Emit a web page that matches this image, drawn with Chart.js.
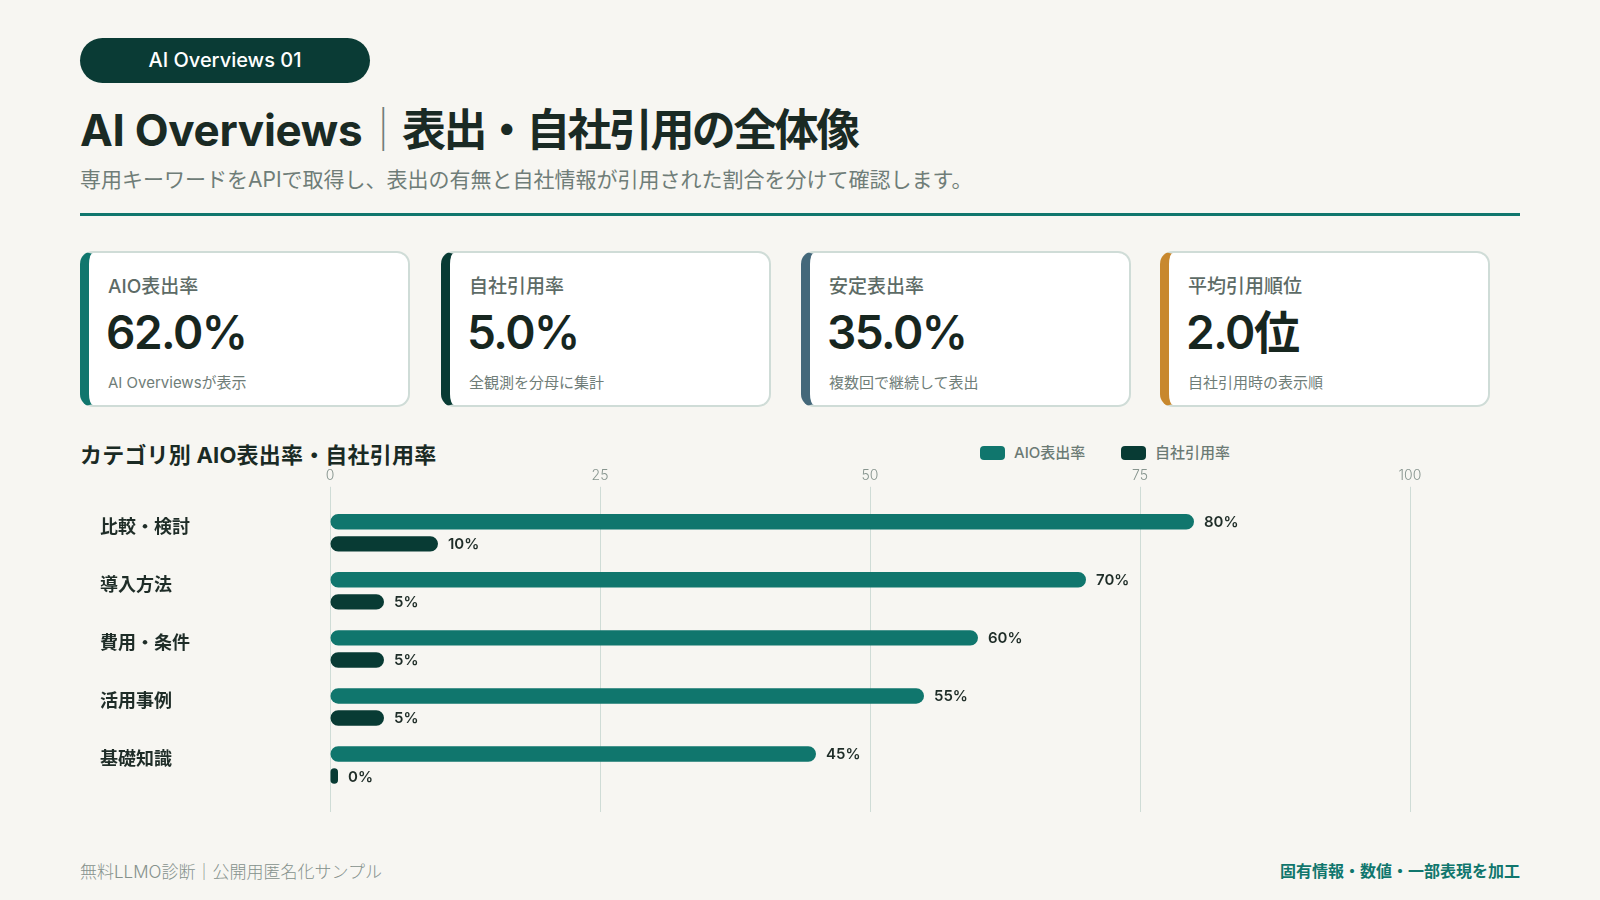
<!DOCTYPE html>
<html lang="ja">
<head>
<meta charset="utf-8">
<script src="https://cdn.jsdelivr.net/npm/chart.js@4/dist/chart.umd.min.js"></script>
<style>
  html, body { margin: 0; padding: 0; }
  body {
    width: 1600px; height: 900px; position: relative; overflow: hidden;
    background: #f7f6f2;
    font-family: Inter, "Noto Sans CJK JP", sans-serif;
    color: #1a2a24;
  }
  .pill {
    position: absolute; left: 80px; top: 38px; width: 290px; height: 45px;
    border-radius: 23px; background: #0a3b35; color: #fff;
    font-size: 20px; font-weight: 500; line-height: 45px; text-align: center;
  }
  h1 {
    position: absolute; left: 80px; top: 95px; margin: 0;
    font-size: 44px; font-weight: 700; letter-spacing: -0.3px; color: #1a2a24;
  }
  h1 .bar { font-weight: 300; color: #6f7d78; margin: 0 -3px 0 -1px; }
  h1 .jp { letter-spacing: -2.6px; }
  .sub {
    position: absolute; left: 80px; top: 163px;
    font-size: 21px; color: #6f7d78;
  }
  .rule { position: absolute; left: 80px; top: 213px; width: 1440px; height: 3px; background: #10766d; }
  .card {
    position: absolute; top: 251px; width: 330px; height: 156px;
    background: #fff; border: 2px solid #cfdcd7; border-left: 9px solid #10766d;
    border-radius: 13px; box-sizing: border-box;
  }
  .card .lbl { position: absolute; left: 19px; top: 18px; font-size: 19px; font-weight: 500; color: #5d6b66; }
  .card .val { position: absolute; left: 17px; top: 51px; font-size: 46px; line-height: 56px; font-weight: 600; color: #17261f; letter-spacing: -1.5px; }
  .card .note { position: absolute; left: 19px; top: 118px; font-size: 15px; color: #6f7d78; }
  .ctitle { position: absolute; left: 80px; top: 437px; font-size: 22px; font-weight: 700; letter-spacing: 0.2px; color: #1a2a24; }
  .legend { position: absolute; top: 441px; font-size: 15px; font-weight: 500; color: #6b7a74; }
  .legend span.box { display: inline-block; width: 25px; height: 14px; border-radius: 4px; vertical-align: -2px; margin-right: 9px; }
  .chartbox { position: absolute; left: 80px; top: 464px; width: 1410px; height: 348px; }
  .foot-l { position: absolute; left: 80px; top: 858px; font-size: 17px; color: #85918c; font-weight: 300; }
  .foot-r { position: absolute; right: 80px; top: 858px; font-size: 16px; color: #10766d; font-weight: 700; }
</style>
</head>
<body>
<div class="pill">AI Overviews 01</div>
<h1>AI Overviews<span class="bar">｜</span><span class="jp">表出・自社引用の全体像</span></h1>
<div class="sub">専用キーワードをAPIで取得し、表出の有無と自社情報が引用された割合を分けて確認します。</div>
<div class="rule"></div>
<div id="cards"></div>
<div class="ctitle">カテゴリ別 AIO表出率・自社引用率</div>
<div id="legend"></div>
<div class="chartbox"><canvas id="myChart"></canvas></div>
<div class="foot-l">無料LLMO診断｜公開用匿名化サンプル</div>
<div class="foot-r">固有情報・数値・一部表現を加工</div>

<script>
// KPI cards
const kpiLabels = ['AIO表出率', '自社引用率', '安定表出率', '平均引用順位'];
const kpiValues = ['62.0%', '5.0%', '35.0%', '2.0位'];
const kpiNotes = ['AI Overviewsが表示', '全観測を分母に集計', '複数回で継続して表出', '自社引用時の表示順'];
const kpiColors = ['#10766d', '#083b34', '#44687a', '#c8882e'];
const kpiLeft = [80, 441, 801, 1160];

// chart data
const categories = ['比較・検討', '導入方法', '費用・条件', '活用事例', '基礎知識'];
const aioRates = [80, 70, 60, 55, 45];
const citeRates = [10, 5, 5, 5, 0];
const xTicks = [0, 25, 50, 75, 100];
const seriesNames = ['AIO表出率', '自社引用率'];
const seriesColors = ['#10766d', '#083b34'];

const cardsEl = document.getElementById('cards');
kpiLabels.forEach((label, i) => {
    const c = document.createElement('div');
    c.className = 'card';
    c.style.left = kpiLeft[i] + 'px';
    c.style.borderLeftColor = kpiColors[i];
    c.innerHTML = '<div class="lbl">' + label + '</div><div class="val">' + kpiValues[i] +
        '</div><div class="note">' + kpiNotes[i] + '</div>';
    cardsEl.appendChild(c);
});

// html legend
const legendEl = document.getElementById('legend');
const legendLeft = [980, 1121];
seriesNames.forEach((name, i) => {
    const d = document.createElement('div');
    d.className = 'legend';
    d.style.left = legendLeft[i] + 'px';
    d.innerHTML = '<span class="box" style="background:' + seriesColors[i] + '"></span>' + name;
    document.body.appendChild(d);
});

Chart.defaults.font.family = 'Inter, "Noto Sans CJK JP", sans-serif';

// value labels at bar ends
const valueLabels = {
    id: 'valueLabels',
    afterDatasetsDraw(chart) {
        const ctx = chart.ctx;
        ctx.save();
        ctx.font = '600 15px Inter, "Noto Sans CJK JP", sans-serif';
        ctx.fillStyle = '#1f2d28';
        ctx.textAlign = 'left';
        ctx.textBaseline = 'middle';
        chart.data.datasets.forEach((ds, di) => {
            chart.getDatasetMeta(di).data.forEach((bar, i) => {
                ctx.fillText(ds.data[i] + '%', bar.x + 10, bar.y + 1);
            });
        });
        ctx.restore();
    }
};

const ctx = document.getElementById('myChart');
new Chart(ctx, {
    type: 'bar',
    data: {
        labels: categories,
        datasets: [{
            label: seriesNames[0],
            data: aioRates,
            backgroundColor: seriesColors[0]
        }, {
            label: seriesNames[1],
            data: citeRates,
            backgroundColor: seriesColors[1]
        }]
    },
    options: {
        indexAxis: 'y',
        responsive: true,
        maintainAspectRatio: false,
        animation: false,
        layout: { padding: { left: 20, right: 80, top: 0, bottom: 0 } },
        datasets: {
            bar: {
                categoryPercentage: 0.76,
                barPercentage: 0.7,
                borderRadius: 8,
                borderSkipped: false,
                minBarLength: 8
            }
        },
        plugins: {
            legend: { display: false },
            tooltip: { enabled: false }
        },
        scales: {
            x: {
                position: 'top',
                min: 0,
                max: 100,
                afterBuildTicks: scale => { scale.ticks = xTicks.map(v => ({ value: v })); },
                ticks: {
                    color: '#87958f',
                    font: { size: 14, weight: 300 },
                    padding: 3
                },
                grid: { color: '#cfdcd6', lineWidth: 1, tickLength: 17 },
                border: { display: false }
            },
            x2: {
                position: 'bottom',
                min: 0,
                max: 100,
                afterBuildTicks: scale => { scale.ticks = xTicks.map(v => ({ value: v })); },
                ticks: { display: false },
                grid: { color: '#cfdcd6', lineWidth: 1, tickLength: 18, drawOnChartArea: false },
                border: { display: false }
            },
            y: {
                grid: { display: false },
                border: { display: false },
                afterFit: scale => { scale.width = 230; },
                ticks: {
                    crossAlign: 'far',
                    labelOffset: -5,
                    color: '#1f2d28',
                    font: { size: 18, weight: 700 }
                }
            }
        }
    },
    plugins: [valueLabels]
});
</script>
</body>
</html>
